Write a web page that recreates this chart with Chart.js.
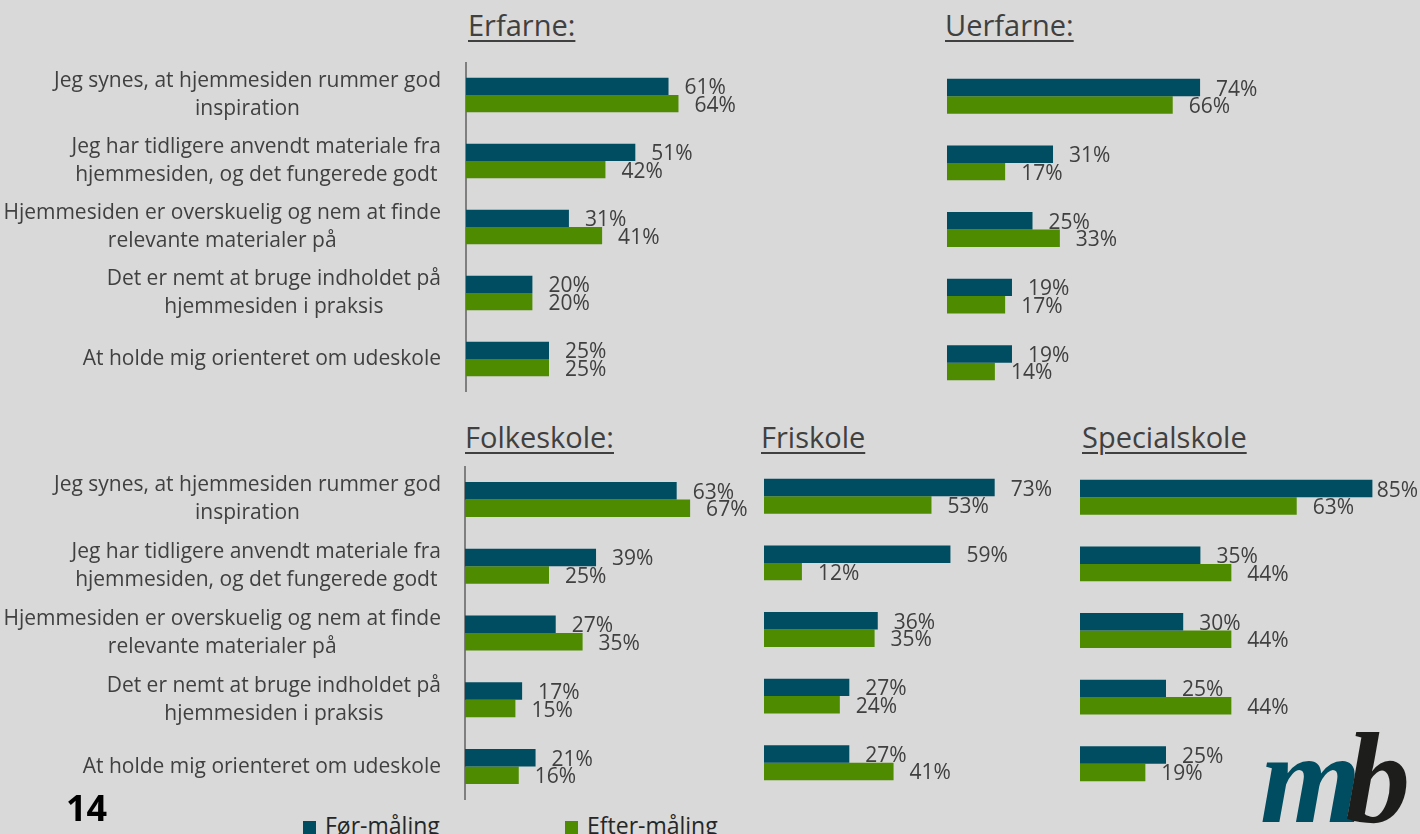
<!DOCTYPE html>
<html lang="da">
<head>
<meta charset="utf-8">
<title>Hjemmesiden – før- og eftermåling</title>
<script src="https://cdn.jsdelivr.net/npm/chart.js@4.4.1/dist/chart.umd.min.js"></script>
<style>
  html, body { margin: 0; padding: 0; }
  body {
    width: 1420px; height: 834px; position: relative; overflow: hidden;
    background: #d9d9d9; font-family: "Open Sans", sans-serif;
  }
  canvas { position: absolute; }
  .titel {
    position: absolute; color: #404040; font-size: 29px; line-height: 1;
    text-decoration: underline; text-decoration-thickness: 2px;
    text-underline-offset: 4px; white-space: nowrap;
  }
  .side { position: absolute; left: 66px; top: 790px; font-size: 36px; font-weight: 700; line-height: 1; color: #000; }
  .legende { position: absolute; font-size: 23px; line-height: 1; color: #262626; white-space: nowrap; }
  .legende i { display: inline-block; width: 13px; height: 14px; margin-right: 9px; vertical-align: -1px; }
  .logo {
    position: absolute; left: 1260px; top: 713px; line-height: 1;
    font-family: "Liberation Serif", serif; font-style: italic; font-weight: 700;
    font-size: 130px; letter-spacing: -16px;
  }
</style>
</head>
<body>

<div class="titel" style="left:468px; top:10px">Erfarne:</div>
<div class="titel" style="left:945px; top:10px">Uerfarne:</div>
<div class="titel" style="left:465px; top:422px">Folkeskole:</div>
<div class="titel" style="left:761px; top:422px">Friskole</div>
<div class="titel" style="left:1082px; top:422px">Specialskole</div>

<canvas id="chartErfarne"></canvas>
<canvas id="chartUerfarne"></canvas>
<canvas id="chartFolkeskole"></canvas>
<canvas id="chartFriskole"></canvas>
<canvas id="chartSpecialskole"></canvas>

<div class="side">14</div>
<div id="legende"></div>
<div class="logo"><span style="color:#004c60">m</span><span style="color:#1d1d1b">b</span></div>

<script>
// Udsagn (samme fem i alle diagrammer)
const kategorier = [
  ['Jeg synes, at hjemmesiden rummer god', 'inspiration'],
  ['Jeg har tidligere anvendt materiale fra', 'hjemmesiden, og det fungerede godt'],
  ['Hjemmesiden er overskuelig og nem at finde', 'relevante materialer på'],
  ['Det er nemt at bruge indholdet på', 'hjemmesiden i praksis'],
  ['At holde mig orienteret om udeskole']
];

const serier = ['Før-måling', 'Efter-måling'];

// Procenter pr. gruppe
const erfarneFoer = [61, 51, 31, 20, 25];
const erfarneEfter = [64, 42, 41, 20, 25];

const uerfarneFoer = [74, 31, 25, 19, 19];
const uerfarneEfter = [66, 17, 33, 17, 14];

const folkeskoleFoer = [63, 39, 27, 17, 21];
const folkeskoleEfter = [67, 25, 35, 15, 16];

const friskoleFoer = [73, 59, 36, 27, 27];
const friskoleEfter = [53, 12, 35, 24, 41];

const specialskoleFoer = [85, 35, 30, 25, 25];
const specialskoleEfter = [63, 44, 44, 44, 19];

const farver = ['#004c60', '#4e8b00'];

// Placering af de fem diagrammer på siden
const paneler = [
  { id: 'chartErfarne', foer: erfarneFoer, efter: erfarneEfter, left: 0, top: 62, height: 330, padLeft: 466, pxPrPct: 3.32, padRight: 100, akse: true },
  { id: 'chartUerfarne', foer: uerfarneFoer, efter: uerfarneEfter, left: 947, top: 63, height: 333, padLeft: 0, pxPrPct: 3.425, padRight: 80, akse: false },
  { id: 'chartFolkeskole', foer: folkeskoleFoer, efter: folkeskoleEfter, left: 0, top: 466, height: 334, padLeft: 465, pxPrPct: 3.36, padRight: 80, akse: true },
  { id: 'chartFriskole', foer: friskoleFoer, efter: friskoleEfter, left: 764, top: 463, height: 333, padLeft: 0, pxPrPct: 3.167, padRight: 0, akse: false },
  { id: 'chartSpecialskole', foer: specialskoleFoer, efter: specialskoleEfter, left: 1080, top: 464, height: 333, padLeft: 0, pxPrPct: 3.44, padRight: 0, akse: false }
];

// Procenttal ud for hver søjle
const vaerdiEtiketter = {
  id: 'vaerdiEtiketter',
  afterDatasetsDraw(chart, args, opts) {
    const ctx = chart.ctx;
    ctx.save();
    ctx.font = '21px "Open Sans"';
    ctx.fillStyle = '#404040';
    ctx.textBaseline = 'middle';
    chart.data.datasets.forEach((ds, i) => {
      chart.getDatasetMeta(i).data.forEach((bar, j) => {
        const tekst = ds.data[j] + '%';
        const w = ctx.measureText(tekst).width;
        let x = bar.x + 16;
        if (x + w > opts.maksX) x = opts.maksX - w;
        ctx.fillText(tekst, x, bar.y + 2);
      });
    });
    ctx.restore();
  }
};

// Udsagnene til venstre for aksen, linjerne centreret indbyrdes
const kategoriEtiketter = {
  id: 'kategoriEtiketter',
  afterDraw(chart, args, opts) {
    if (!opts.vis) return;
    const ctx = chart.ctx;
    const yAkse = chart.scales.y;
    ctx.save();
    ctx.font = '21px "Open Sans"';
    ctx.fillStyle = '#404040';
    ctx.textAlign = 'center';
    ctx.textBaseline = 'middle';
    chart.data.labels.forEach((linjer, i) => {
      const midt = yAkse.getPixelForTick(i);
      const bredde = Math.max(...linjer.map(l => ctx.measureText(l).width));
      const cx = opts.hoejre - bredde / 2;
      linjer.forEach((l, k) => {
        ctx.fillText(l, cx, midt + (k - (linjer.length - 1) / 2) * 28);
      });
    });
    ctx.restore();
  }
};

const diagrammer = paneler.map(p => {
  const canvas = document.getElementById(p.id);
  const bredde = p.padLeft + p.pxPrPct * 100 + p.padRight;
  canvas.width = bredde;
  canvas.height = p.height;
  canvas.style.left = p.left + 'px';
  canvas.style.top = p.top + 'px';

  return new Chart(canvas, {
    type: 'bar',
    data: {
      labels: kategorier,
      datasets: [
        { label: serier[0], data: p.foer, backgroundColor: farver[0] },
        { label: serier[1], data: p.efter, backgroundColor: farver[1] }
      ]
    },
    options: {
      indexAxis: 'y',
      responsive: false,
      animation: false,
      categoryPercentage: 0.524,
      barPercentage: 1,
      layout: { padding: { left: p.padLeft, right: p.padRight, top: 0, bottom: 0 } },
      scales: {
        x: { display: false, min: 0, max: 100 },
        y: {
          display: p.akse,
          grid: { display: false, drawTicks: false },
          ticks: { display: false },
          border: { display: p.akse, color: '#7f7f7f', width: 2 }
        }
      },
      plugins: {
        legend: { display: false },
        tooltip: { enabled: false },
        vaerdiEtiketter: { maksX: 1418 - p.left },
        kategoriEtiketter: { vis: p.akse, hoejre: 441 }
      }
    },
    plugins: [vaerdiEtiketter, kategoriEtiketter]
  });
});

// Fælles forklaring nederst
const legendePladser = [303, 565];
const legende = document.getElementById('legende');
diagrammer[0].data.datasets.forEach((ds, i) => {
  const el = document.createElement('div');
  el.className = 'legende';
  el.style.left = legendePladser[i] + 'px';
  el.style.top = '814px';
  el.innerHTML = '<i style="background:' + ds.backgroundColor + '"></i>' + ds.label;
  legende.appendChild(el);
});
</script>
</body>
</html>
